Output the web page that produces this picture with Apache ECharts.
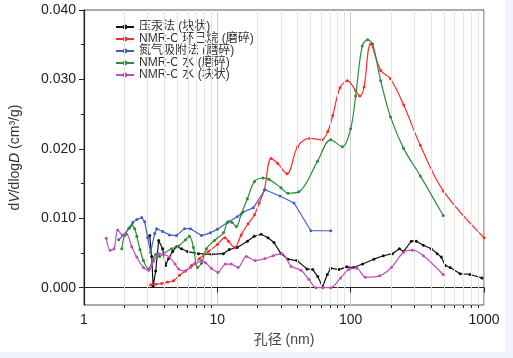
<!DOCTYPE html>
<html><head><meta charset="utf-8">
<script src="https://cdn.jsdelivr.net/npm/echarts@6/dist/echarts.min.js"></script>
<style>
html,body{margin:0;padding:0;background:#eef4fa;}
#c{position:absolute;left:0;top:0;width:505px;height:352px;background:#fff;}
</style></head><body>
<div id="c"></div>
<script>
const seriesNames = ['压汞法 (块状)', 'NMR-C 环己烷 (磨碎)', '氮气吸附法 (磨碎)', 'NMR-C 水 (磨碎)', 'NMR-C 水 (块状)'];
const xTickLabels = [1, 10, 100, 1000];
const yTickLabels = [0, 0.01, 0.02, 0.03, 0.04];

const blackD = [3.11,3.22,3.30,3.45,3.63,3.89,4.09,4.31,4.62,4.94,5.39,5.97,7.22,9.02,11.1,12.3,14.1,16.8,18.9,21.3,24.0,26.6,30.0,33.9,39.5,47.0,52.0,56.7,61.5,66.8,70.9,81.4,93.4,105,123,149,176,206,232,249,285,311,351,402,446,478,512,558,662,786,966];
const blackV = [0.0075,0.0045,0.0002,0.0024,0.0068,0.0056,0.0032,0.0042,0.0052,0.0059,0.0056,0.0052,0.0049,0.0048,0.0049,0.0055,0.0058,0.0067,0.0074,0.0077,0.0072,0.0065,0.0049,0.0041,0.0039,0.0027,0.0026,0.0016,0.0001,0.0019,0.0028,0.0026,0.0030,0.0029,0.0034,0.0041,0.0046,0.0049,0.0056,0.0052,0.0067,0.0067,0.0061,0.0056,0.0049,0.0044,0.0032,0.0029,0.0020,0.0019,0.0014];

const redD = [3.16,3.45,3.82,4.24,4.70,5.20,5.77,6.40,7.34,8.57,10.0,11.4,12.1,13.5,15.1,17.0,19.0,20.6,22.5,25.3,28.4,33.3,40.0,49.4,60.8,67.4,73.4,83.2,94.5,109,117,126,141,168,199,250,333,497,1000];
const redV = [0.0004,0.0005,0.0006,0.0008,0.0010,0.0018,0.0024,0.0032,0.0042,0.0052,0.0062,0.0072,0.0067,0.0058,0.0076,0.0092,0.0105,0.0122,0.0141,0.0186,0.0179,0.0164,0.0203,0.0215,0.0213,0.0225,0.0248,0.0288,0.0298,0.0284,0.0276,0.0289,0.0351,0.0313,0.0301,0.0263,0.0205,0.0139,0.0072];

const blueD = [1.82,1.99,2.20,2.32,2.49,2.71,2.85,3.00,3.16,3.39,3.51,3.89,4.38,4.94,5.67,6.29,7.60,8.87,10.0,11.9,14.1,15.6,18.6,22.8,29.5,37.6,50.3,70.9];
const blueV = [0.0069,0.0076,0.0086,0.0094,0.0098,0.0101,0.0095,0.0072,0.0051,0.0078,0.0085,0.0081,0.0076,0.0075,0.0085,0.0085,0.0075,0.0079,0.0084,0.0094,0.0102,0.0109,0.0115,0.0141,0.0132,0.0122,0.0082,0.0082];

const greenD = [1.92,2.01,2.17,2.28,2.40,2.49,2.63,2.79,3.04,3.27,3.45,3.69,3.95,4.54,5.12,5.77,6.18,6.62,7.09,7.60,8.28,9.50,11.1,12.1,12.9,13.9,15.1,16.8,19.0,22.0,24.4,30.0,33.9,40.9,56.4,70.9,86.7,100,109,122,134,146,168,199,249,333,494];
const greenV = [0.0056,0.0075,0.0086,0.0090,0.0085,0.0074,0.0055,0.0039,0.0027,0.0039,0.0048,0.0045,0.0049,0.0056,0.0060,0.0069,0.0074,0.0058,0.0029,0.0035,0.0056,0.0068,0.0079,0.0095,0.0094,0.0088,0.0106,0.0128,0.0153,0.0158,0.0156,0.0144,0.0136,0.0138,0.0182,0.0213,0.0203,0.0229,0.0276,0.0348,0.0357,0.0351,0.0298,0.0246,0.0201,0.0161,0.0104];

const magentaD = [1.47,1.57,1.68,1.79,1.94,2.09,2.28,2.49,2.79,3.06,3.33,3.63,3.95,4.38,4.82,5.12,5.70,6.29,6.85,7.60,8.14,9.02,10.1,11.5,12.7,14.3,16.5,19.2,22.8,26.2,30.6,35.7,42.4,48.6,54.8,61.8,70.9,84.2,96.6,111,129,165,202,249,290,351,494];
const magentaV = [0.0071,0.0054,0.0056,0.0083,0.0076,0.0077,0.0059,0.0044,0.0029,0.0025,0.0038,0.0049,0.0048,0.0044,0.0034,0.0027,0.0024,0.0029,0.0034,0.0039,0.0036,0.0028,0.0022,0.0034,0.0034,0.0029,0.0045,0.0039,0.0042,0.0046,0.0049,0.0031,0.0025,0.0012,0.0000,0.0000,0.0000,0.0014,0.0026,0.0028,0.0015,0.0017,0.0029,0.0051,0.0054,0.0046,0.0019];

// minor log positions 2..9 in each decade
const minorGridValues = [];
[1, 10, 100].forEach(function (dec) { for (let k = 2; k <= 9; k++) minorGridValues.push(k * dec); });

// helper category scaffolding for log-spaced minor ticks (x) and 0.005 minor ticks (y)
const X_STEPS = 3000;
const xCat = Array.from({ length: X_STEPS + 1 }, (_, i) => String(i));
const xMinorIdx = new Set(minorGridValues.map(v => Math.round(Math.log10(v) * 1000)));
const Y_MIN = -0.0025, Y_MAX = 0.04, Y_STEP = 0.0025;
const yCat = Array.from({ length: Math.round((Y_MAX - Y_MIN) / Y_STEP) + 1 }, (_, i) => String(i));

const zip = (a, b) => a.map((v, i) => [v, b[i]]);
const colors = ['#111111', '#ff2a2a', '#3f5fc8', '#2a8c3c', '#c04cc0'];
const smooths = [false, 0.35, false, 0.35, 0.3];
const datas = [zip(blackD, blackV), zip(redD, redV), zip(blueD, blueV), zip(greenD, greenV), zip(magentaD, magentaV)];

const FONT = 'Liberation Sans, Arial, Noto Sans CJK SC, sans-serif';
const series = seriesNames.map((n, i) => ({
  name: n, type: 'line', data: datas[i], smooth: smooths[i],
  symbol: 'circle', symbolSize: 3, showSymbol: true,
  lineStyle: { width: 1.2, color: colors[i] }, itemStyle: { color: colors[i] },
  emphasis: { disabled: true }, animation: false, z: 3 + i
}));
series.push({
  type: 'line', data: [], silent: true, animation: false,
  markLine: {
    silent: true, symbol: ['none', 'none'], label: { show: false },
    lineStyle: { color: '#e6e6e6', width: 1, type: 'solid' },
    data: minorGridValues.map(v => ({ xAxis: v }))
  }, z: 1
});

const chart = echarts.init(document.getElementById('c'), null, { renderer: 'canvas' });
chart.setOption({
  animation: false,
  backgroundColor: '#ffffff',
  textStyle: { fontFamily: FONT },
  grid: { left: 82, right: 21, top: 10, bottom: 43, show: true, borderColor: '#555', borderWidth: 1, backgroundColor: 'transparent' },
  legend: {
    orient: 'vertical', left: 110, top: 16, itemWidth: 18, itemHeight: 6, itemGap: 0,
    textStyle: { fontSize: 12, color: '#333', fontFamily: FONT, lineHeight: 12 },
    data: seriesNames
  },
  xAxis: [{
    type: 'log', logBase: 10, min: 1, max: 1000,
    name: '孔径 (nm)', nameLocation: 'middle', nameGap: 28,
    nameTextStyle: { fontSize: 14, color: '#444', fontFamily: FONT },
    axisLine: { lineStyle: { color: '#222', width: 1.2 } },
    axisTick: { show: true, inside: false, length: 5, lineStyle: { color: '#222' } },
    minorTick: { show: false },
    axisLabel: { fontSize: 14, color: '#222', margin: 8, formatter: v => (xTickLabels.indexOf(Math.round(v)) >= 0 ? String(Math.round(v)) : '') },
    splitLine: { show: true, lineStyle: { color: '#cfcfcf', width: 1 } },
    minorSplitLine: { show: false }
  }, {
    type: 'category', data: xCat, boundaryGap: false, position: 'bottom',
    axisLine: { show: false }, axisLabel: { show: false }, splitLine: { show: false },
    axisTick: { show: true, length: 3, interval: (idx) => xMinorIdx.has(idx), lineStyle: { color: '#222' } },
    axisPointer: { show: false }, silent: true
  }],
  yAxis: [{
    type: 'value', min: Y_MIN, max: Y_MAX, splitNumber: 4,
    name: '{a|d}{b|V}{a|/dlog}{b|D}{a| (cm³/g)}', nameLocation: 'middle', nameGap: 62,
    nameTextStyle: { fontSize: 14, color: '#333', fontFamily: FONT,
      rich: { a: { fontSize: 14, color: '#333', fontFamily: FONT }, b: { fontSize: 14, color: '#333', fontFamily: FONT, fontStyle: 'italic' } } },
    axisLine: { show: true, lineStyle: { color: '#222', width: 1.2 } },
    axisTick: { show: true, length: 5, lineStyle: { color: '#222' } },
    minorTick: { show: false },
    axisLabel: { fontSize: 14, color: '#222', margin: 8, showMinLabel: false,
      formatter: v => { const k = yTickLabels.findIndex(t => Math.abs(t - v) < 1e-9); return k >= 0 ? yTickLabels[k].toFixed(3) : ''; } },
    splitLine: { show: false }
  }, {
    type: 'category', data: yCat, boundaryGap: false, position: 'left',
    axisLine: { show: false }, axisLabel: { show: false }, splitLine: { show: false },
    axisTick: { show: true, length: 3, interval: (idx) => idx % 4 === 3, lineStyle: { color: '#222' } },
    axisPointer: { show: false }, silent: true
  }],
  series: series
});
</script></body></html>
